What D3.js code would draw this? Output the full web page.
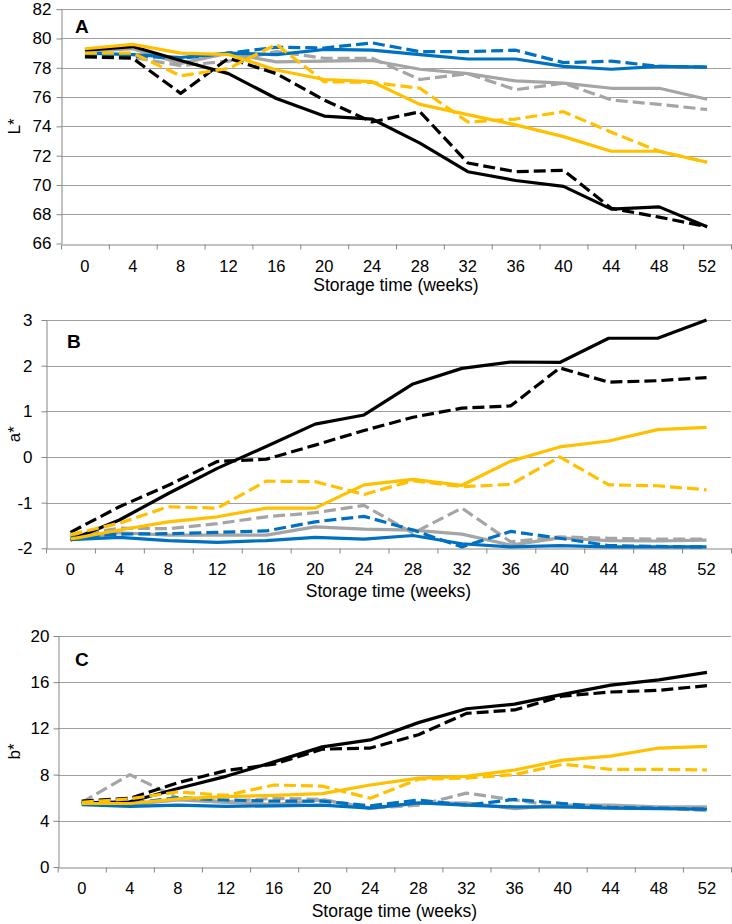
<!DOCTYPE html>
<html><head><meta charset="utf-8">
<script src="https://cdn.jsdelivr.net/npm/d3@7"></script>
<style>body{margin:0;background:#fff;} svg{display:block;font-family:"Liberation Sans",Arial,sans-serif;}</style>
</head><body>
<svg id="chart" width="732" height="924"></svg>
<script>
const weeks = [0,4,8,12,16,20,24,28,32,36,40,44,48,52];

// Panel A: L*
const L_blackSolid  = [79.2,79.45,78.5,77.6,75.9,74.7,74.5,72.85,70.9,70.3,69.9,68.35,68.5,67.15];
const L_blackDashed = [78.75,78.65,76.25,78.65,77.6,75.8,74.3,75.0,71.5,70.9,71.0,68.4,67.8,67.15];
const L_yellowSolid = [79.3,79.6,79.0,78.9,77.85,77.2,77.05,75.5,74.8,74.1,73.3,72.3,72.3,71.55];
const L_yellowDashed= [79.0,79.0,77.45,77.95,79.6,77.05,77.0,76.6,74.3,74.5,75.0,73.6,72.3,71.55];
const L_graySolid   = [79.1,79.3,78.3,79.0,78.4,78.45,78.5,77.9,77.6,77.1,76.95,76.6,76.6,75.85];
const L_grayDashed  = [78.8,78.7,78.15,78.45,79.1,78.65,78.65,77.2,77.6,76.5,76.95,75.8,75.5,75.15];
const L_blueSolid   = [79.0,78.9,78.7,79.0,78.9,79.25,79.2,78.9,78.6,78.6,78.1,77.9,78.1,78.05];
const L_blueDashed  = [78.8,78.8,78.65,79.0,79.4,79.35,79.7,79.1,79.1,79.2,78.35,78.45,78.1,78.05];

// Panel B: a*
const a_blackSolid  = [-1.82,-1.38,-0.8,-0.25,0.23,0.72,0.92,1.6,1.94,2.08,2.07,2.6,2.6,3.0];
const a_blackDashed = [-1.65,-1.09,-0.62,-0.1,-0.05,0.26,0.58,0.87,1.07,1.12,1.95,1.64,1.67,1.74];
const a_yellowSolid = [-1.8,-1.6,-1.42,-1.31,-1.12,-1.12,-0.61,-0.49,-0.62,-0.09,0.22,0.35,0.6,0.65];
const a_yellowDashed= [-1.7,-1.45,-1.09,-1.12,-0.53,-0.54,-0.82,-0.52,-0.65,-0.6,0.0,-0.61,-0.63,-0.72];
const a_graySolid   = [-1.8,-1.66,-1.71,-1.71,-1.71,-1.53,-1.58,-1.6,-1.69,-1.93,-1.77,-1.83,-1.84,-1.82];
const a_grayDashed  = [-1.72,-1.56,-1.57,-1.46,-1.31,-1.22,-1.06,-1.67,-1.12,-1.86,-1.75,-1.78,-1.8,-1.8];
const a_blueSolid   = [-1.81,-1.76,-1.83,-1.87,-1.83,-1.76,-1.8,-1.72,-1.9,-1.97,-1.94,-1.97,-1.97,-1.97];
const a_blueDashed  = [-1.76,-1.69,-1.68,-1.65,-1.62,-1.42,-1.3,-1.6,-1.97,-1.63,-1.78,-1.94,-1.96,-1.97];

// Panel C: b*
const b_blackSolid  = [5.55,5.65,6.8,7.85,9.1,10.4,11.0,12.5,13.7,14.1,14.95,15.75,16.2,16.85];
const b_blackDashed = [5.7,5.95,7.3,8.35,8.9,10.2,10.3,11.45,13.3,13.6,14.8,15.15,15.3,15.7];
const b_yellowSolid = [5.5,5.5,5.9,6.1,6.2,6.35,7.1,7.7,7.85,8.4,9.25,9.6,10.3,10.45];
const b_yellowDashed= [5.6,5.9,6.5,6.2,7.1,7.0,5.95,7.6,7.7,8.0,8.9,8.45,8.45,8.4];
const b_graySolid   = [5.5,5.4,5.8,5.6,5.4,5.8,5.1,5.5,5.55,5.05,5.35,5.35,5.2,5.2];
const b_grayDashed  = [5.6,8.0,5.95,5.65,5.95,5.85,5.1,5.35,6.4,5.8,5.2,5.3,5.1,4.9];
const b_blueSolid   = [5.4,5.25,5.35,5.25,5.3,5.35,5.1,5.55,5.35,5.2,5.2,5.1,5.05,5.0];
const b_blueDashed  = [5.5,5.5,6.0,5.8,5.7,5.7,5.3,5.8,5.35,5.85,5.5,5.15,5.1,5.0];

const L_ticks = [66,68,70,72,74,76,78,80,82];
const a_ticks = [-2,-1,0,1,2,3];
const b_ticks = [0,4,8,12,16,20];

const colors = {black:"#000000", yellow:"#FFC000", gray:"#A5A5A5", blue:"#0070C0"};
const DASH = "12,5";

function seriesSet(p){
  return [
    {key:"graySolid", color:colors.gray, dash:null, values:p.graySolid},
    {key:"grayDashed", color:colors.gray, dash:DASH, values:p.grayDashed},
    {key:"blueSolid", color:colors.blue, dash:null, values:p.blueSolid},
    {key:"blueDashed", color:colors.blue, dash:DASH, values:p.blueDashed},
    {key:"blackSolid", color:colors.black, dash:null, values:p.blackSolid},
    {key:"yellowSolid", color:colors.yellow, dash:null, values:p.yellowSolid},
    {key:"blackDashed", color:colors.black, dash:DASH, values:p.blackDashed},
    {key:"yellowDashed", color:colors.yellow, dash:DASH, values:p.yellowDashed}
  ];
}

const panels = [
  {label:"A", ytitle:"L*", ticks:L_ticks, left:61, right:731, top:9.2, bottom:243.5, labelGap:10,
   tickLabelY:272, titleY:291, ytitleX:15, panelLabelX:75, panelLabelY:33,
   data:{blackSolid:L_blackSolid,blackDashed:L_blackDashed,yellowSolid:L_yellowSolid,yellowDashed:L_yellowDashed,graySolid:L_graySolid,grayDashed:L_grayDashed,blueSolid:L_blueSolid,blueDashed:L_blueDashed}},
  {label:"B", ytitle:"a*", ticks:a_ticks, left:46, right:731, top:320, bottom:548.3, labelGap:14,
   tickLabelY:575, titleY:597, ytitleX:15, panelLabelX:67, panelLabelY:348,
   data:{blackSolid:a_blackSolid,blackDashed:a_blackDashed,yellowSolid:a_yellowSolid,yellowDashed:a_yellowDashed,graySolid:a_graySolid,grayDashed:a_grayDashed,blueSolid:a_blueSolid,blueDashed:a_blueDashed}},
  {label:"C", ytitle:"b*", ticks:b_ticks, left:57.7, right:731, top:636, bottom:867, labelGap:9,
   tickLabelY:894, titleY:917, ytitleX:15, panelLabelX:75, panelLabelY:666,
   data:{blackSolid:b_blackSolid,blackDashed:b_blackDashed,yellowSolid:b_yellowSolid,yellowDashed:b_yellowDashed,graySolid:b_graySolid,grayDashed:b_grayDashed,blueSolid:b_blueSolid,blueDashed:b_blueDashed}}
];

const svg = d3.select("#chart");

panels.forEach(p => {
  const g = svg.append("g");
  const x = d3.scalePoint().domain(weeks).range([p.left, p.right]).padding(0.5);
  const xEdge = d3.scaleLinear().domain([0, weeks.length]).range([p.left, p.right]);
  const y = d3.scaleLinear().domain([p.ticks[0], p.ticks[p.ticks.length-1]]).range([p.bottom, p.top]);

  // gridlines
  g.append("g").selectAll("line").data(p.ticks.slice(1)).join("line")
    .attr("x1", p.left).attr("x2", p.right)
    .attr("y1", d => Math.round(y(d))+0.5).attr("y2", d => Math.round(y(d))+0.5)
    .attr("stroke", "#a0a0a0").attr("stroke-width", 1);

  // y axis
  const yAxis = g.append("g").attr("transform", `translate(${Math.round(p.left)+0.5},0)`)
    .call(d3.axisLeft(y).tickValues(p.ticks).tickSize(5).tickSizeOuter(0).tickPadding(p.labelGap - 5).tickFormat(d3.format("d")));
  yAxis.select(".domain").attr("stroke", "#868686");
  yAxis.selectAll(".tick line").attr("stroke", "#868686");
  yAxis.selectAll(".tick text").attr("font-size", 17).attr("fill", "#000")
    .attr("font-family", "'Liberation Sans', Arial, sans-serif")
    .text(d => d < 0 ? "-" + Math.abs(d) : d);

  // x axis (ticks between categories)
  const xAxis = g.append("g").attr("transform", `translate(0,${Math.round(p.bottom)+0.5})`)
    .call(d3.axisBottom(xEdge).tickValues(d3.range(weeks.length+1)).tickSize(5).tickSizeOuter(0).tickFormat(""));
  xAxis.select(".domain").attr("stroke", "#868686");
  xAxis.selectAll(".tick line").attr("stroke", "#868686");

  g.append("g").selectAll("text").data(weeks).join("text")
    .attr("x", d => x(d)).attr("y", p.tickLabelY)
    .attr("text-anchor", "middle").attr("font-size", 16.5).attr("fill", "#000")
    .text(d => d);

  g.append("text").attr("x", (p.left + p.right)/2).attr("y", p.titleY)
    .attr("text-anchor", "middle").attr("font-size", 17.5).attr("fill", "#000")
    .text("Storage time (weeks)");

  g.append("text")
    .attr("transform", `translate(${p.ytitleX + 5},${(p.top + p.bottom)/2}) rotate(-90)`)
    .attr("text-anchor", "middle").attr("font-size", 17).attr("fill", "#000")
    .text(p.ytitle);

  g.append("text").attr("x", p.panelLabelX).attr("y", p.panelLabelY)
    .attr("font-size", 19).attr("font-weight", "bold").attr("fill", "#000")
    .text(p.label);

  const line = d3.line().x((d,i) => x(weeks[i])).y(d => y(d));
  g.append("g").selectAll("path").data(seriesSet(p.data)).join("path")
    .attr("d", s => line(s.values))
    .attr("fill", "none")
    .attr("stroke", s => s.color)
    .attr("stroke-width", 3.2)
    .attr("stroke-linejoin", "round")
    .attr("stroke-dasharray", s => s.dash);
});
</script>
</body></html>
